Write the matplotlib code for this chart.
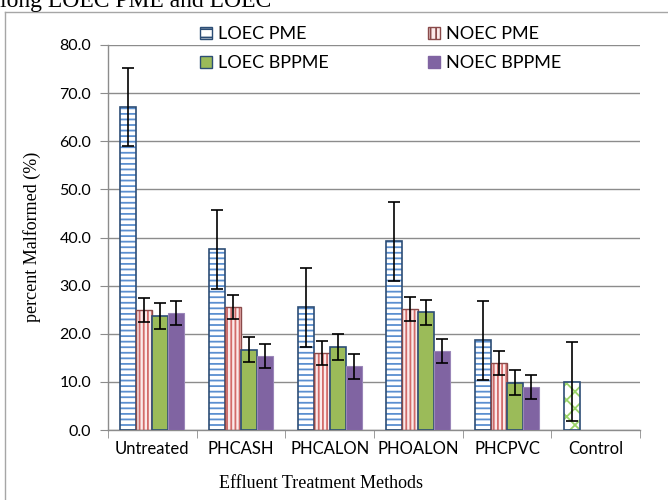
import matplotlib.pyplot as plt
import numpy as np
from matplotlib.patches import Patch

# data
methods = ['Untreated', 'PHCASH', 'PHCALON', 'PHOALON', 'PHCPVC', 'Control']
loec_pme = [67.1, 37.6, 25.5, 39.2, 18.6, 10.0]
loec_pme_err = [8.1, 8.2, 8.2, 8.2, 8.2, 8.2]
noec_pme = [25.0, 25.5, 16.0, 25.1, 14.0, 0]
noec_pme_err = [2.5, 2.5, 2.5, 2.5, 2.5, 0]
loec_bppme = [23.7, 16.7, 17.2, 24.5, 9.8, 0]
loec_bppme_err = [2.7, 2.6, 2.7, 2.6, 2.6, 0]
noec_bppme = [24.3, 15.4, 13.2, 16.5, 9.0, 0]
noec_bppme_err = [2.5, 2.5, 2.5, 2.5, 2.5, 0]

plt.rcParams['hatch.linewidth'] = 1.3

fig = plt.figure(figsize=(6.68, 5.0), dpi=100)
ax = fig.add_axes([108/668, 1-430/500, 532/668, 385/500])

x = np.arange(len(methods))
w = 0.18
n = len(methods) - 1  # control only has first series

edge = '#2c4d75'
eb = dict(fmt='none', ecolor='black', elinewidth=1.2, capsize=4, capthick=1.2, zorder=4)

# LOEC PME (blue horizontal stripes)
ax.bar(x[:n] - 1.5*w, loec_pme[:n], w, color='white', edgecolor='#5b8fd0', hatch='---', linewidth=0, zorder=2)
ax.bar(x[:n] - 1.5*w, loec_pme[:n], w, color='none', edgecolor=edge, linewidth=1.2, zorder=3)
# control bar (green x hatch)
ax.bar(x[n] - 1.5*w, loec_pme[n], w, color='white', edgecolor='#9bd46a', hatch='xx', linewidth=0, zorder=2)
ax.bar(x[n] - 1.5*w, loec_pme[n], w, color='none', edgecolor=edge, linewidth=1.2, zorder=3)
ax.errorbar(x - 1.5*w, loec_pme, yerr=loec_pme_err, **eb)

# NOEC PME (red vertical stripes)
ax.bar(x[:n] - 0.5*w, noec_pme[:n], w, color='#fbeaea', edgecolor='#d26b69', hatch='||||', linewidth=0, zorder=2)
ax.bar(x[:n] - 0.5*w, noec_pme[:n], w, color='none', edgecolor='#8a4a4a', linewidth=1.0, zorder=3)
ax.errorbar(x[:n] - 0.5*w, noec_pme[:n], yerr=noec_pme_err[:n], **eb)

# LOEC BPPME (green)
ax.bar(x[:n] + 0.5*w, loec_bppme[:n], w, color='#9bbb59', edgecolor=edge, linewidth=1.2, zorder=3)
ax.errorbar(x[:n] + 0.5*w, loec_bppme[:n], yerr=loec_bppme_err[:n], **eb)

# NOEC BPPME (purple)
ax.bar(x[:n] + 1.5*w, noec_bppme[:n], w, color='#8064a2', edgecolor='#9a86b8', linewidth=0.8, zorder=3)
ax.errorbar(x[:n] + 1.5*w, noec_bppme[:n], yerr=noec_bppme_err[:n], **eb)

ax.set_xlim(-0.5, len(methods) - 0.5)
ax.set_ylim(0, 80)
ax.set_yticks(np.arange(0, 81, 10))
ax.set_yticklabels(['%.1f' % v for v in np.arange(0, 81, 10)], fontfamily='Lato', fontsize=11.5)
ax.set_xticks(x)
ax.set_xticklabels(methods, fontfamily='Lato', fontsize=12)
ax.set_xticks(np.arange(-0.5, len(methods)), minor=True)
ax.tick_params(axis='x', which='major', length=0, pad=8)
ax.tick_params(axis='x', which='minor', length=6, color='#8c8c8c')
ax.tick_params(axis='y', length=6, color='#8c8c8c', pad=6)
ax.grid(axis='y', color='#8c8c8c', linewidth=1.0, zorder=0)
ax.set_axisbelow(True)
for s in ['top', 'right']:
    ax.spines[s].set_visible(False)
for s in ['left', 'bottom']:
    ax.spines[s].set_color('#8c8c8c')
    ax.spines[s].set_linewidth(1.0)

# legend (given in column order so rows read LOEC PME / NOEC PME, ...)
handles = [
    Patch(facecolor='white', edgecolor=edge, hatch='--'),
    Patch(facecolor='#9bbb59', edgecolor=edge),
    Patch(facecolor='#fbeaea', edgecolor='#8a4a4a', hatch='|||'),
    Patch(facecolor='#8064a2', edgecolor='#8064a2'),
]
labels = ['LOEC PME', 'LOEC BPPME', 'NOEC PME', 'NOEC BPPME']
fig.legend(handles, labels, ncol=2, loc='upper left', bbox_to_anchor=(200/668, 1-26/500),
           frameon=False, prop={'family': 'Lato', 'size': 13}, handlelength=0.67, handleheight=0.67,
           handletextpad=0.33, columnspacing=5.5, labelspacing=0.72, borderpad=0, borderaxespad=0)

fig.text(32/668, 1-237/500, 'percent Malformed (%)', rotation=90, ha='center', va='center',
         fontfamily='Liberation Serif', fontsize=13)
fig.text(321/668, 1-483/500, 'Effluent Treatment Methods', ha='center', va='center',
         fontfamily='Liberation Serif', fontsize=13)

# partial caption text above the chart box (cut off at the top, as in the source)
fig.text(0.0, 1-7/500, 'long LOEC PME and LOEC', ha='left', va='baseline',
         fontfamily='Liberation Serif', fontsize=17)

# chart border
fig.add_artist(plt.Line2D([5/668, 5/668], [0, 1-12/500], color='#a6a6a6', linewidth=1.0))
fig.add_artist(plt.Line2D([5/668, 1], [1-12/500, 1-12/500], color='#a6a6a6', linewidth=1.0))

fig.savefig('out.png', dpi=100)
